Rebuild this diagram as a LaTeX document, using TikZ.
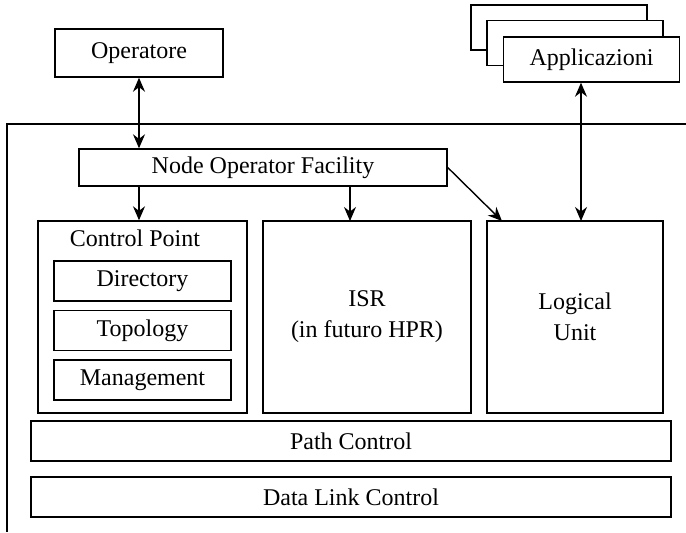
\documentclass[tikz,border=0pt]{standalone}
\usepackage{fontspec}
\setmainfont{Liberation Serif}
\usetikzlibrary{positioning, arrows.meta}
\tikzset{
  txt/.style={font=\fontsize{12}{15.5}\selectfont, align=center, inner sep=2pt},
  blk/.style={txt, draw, line width=0.7pt, fill=white},
  sblk/.style={blk, minimum width=88.5pt, minimum height=20pt},   % dentro Control Point
  ablk/.style={blk, minimum width=88pt, minimum height=22.5pt},   % pila applicazioni
  lyr/.style={blk, minimum width=320pt, minimum height=20pt},
  tall/.style={blk, minimum height=96pt},
  arr/.style={-{Stealth[length=7pt, width=6pt]}, line width=0.7pt},
  biarr/.style={{Stealth[length=7pt, width=6pt]}-{Stealth[length=7pt, width=6pt]}, line width=0.7pt},
}

\begin{document}
\begin{tikzpicture}[x=0.5pt, y=-0.5pt, node distance=4pt]
  \useasboundingbox (0,0) rectangle (686,532);
  % cornice del nodo
  \draw[line width=0.7pt] (686,124) -- (7,124) -- (7,532);

  \node[blk, minimum width=84pt, minimum height=24pt](op) at (139,53){Operatore};
  \node[ablk](app3) at (559,27.5){};
  \node[ablk](app2) at (575,43){};
  \node[ablk](app) at (591.5,59.5){Applicazioni};

  \node[blk, minimum width=184pt, minimum height=18.5pt](nof) at (263,167.5){Node Operator Facility};

  \node[tall, minimum width=104.5pt](cp) at (142.5,317){};
  \node[txt](cpl) at (135,238){Control Point};
  \node[sblk](dir) at (142.5,281){Directory};
  \node[sblk, below=of dir](topo){Topology};
  \node[sblk, below=of topo](mgt){Management};

  \node[tall, minimum width=104pt](isr) at (367,317){ISR\\(in futuro HPR)};
  \node[tall, minimum width=88pt](lu) at (575,317){Logical\\Unit};

  \node[lyr](pc) at (351,441){Path Control};
  \node[lyr](dlc) at (351,497){Data Link Control};

  \coordinate (isrin) at (350,221);
  \coordinate (luin) at (502,221);
  \coordinate (luup) at (581,221);

  \draw[biarr](op.south) -- (op.south |- nof.north);
  \draw[arr](op.south |- nof.south) -- (op.south |- cp.north);
  \draw[arr](isrin |- nof.south) -- (isrin);
  \draw[arr](nof.east) -- (luin);
  \draw[biarr](luup |- app.south) -- (luup);
\end{tikzpicture}
\end{document}
